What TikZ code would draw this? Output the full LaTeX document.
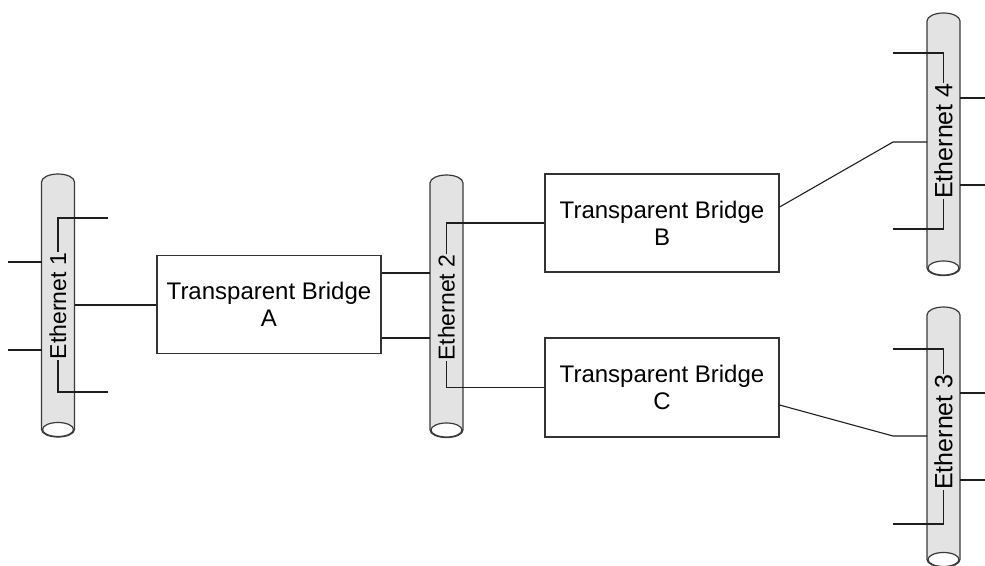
\documentclass[tikz,border=0pt]{standalone}
\usepackage{fontspec}
\setmainfont{Liberation Sans}
\definecolor{busfill}{HTML}{E3E3E3}
\definecolor{busline}{HTML}{3A3A3A}
\definecolor{wirecol}{HTML}{1E1E1E}
\definecolor{boxline}{HTML}{333333}
\tikzset{
  bus/.style={draw=busline, line width=1.2pt, fill=busfill},
  busend/.style={draw=busline, line width=1.2pt, fill=white},
  wire/.style={draw=wirecol, line width=1.1pt},
  bridge/.style={draw=boxline, line width=1.2pt, align=center, inner sep=0pt,
    minimum height=98pt, font=\fontsize{24}{27}\selectfont},
  buslabel/.style={rotate=90, inner sep=0.5pt},
}
\begin{document}
\begin{tikzpicture}[x=1pt,y=-1pt]
\useasboundingbox (0,0) rectangle (985,565);

% ---- Ethernet segments (vertical cable drums) ----
% Ethernet 1
\path[bus] (41.5,429.5) -- (41.5,182) arc[start angle=180,end angle=360,x radius=16.5,y radius=8]
  -- (74.5,429.5) arc[start angle=0,end angle=180,x radius=16.5,y radius=7.5] -- cycle;
\path[busend] (58,429.5) ellipse[x radius=15.5,y radius=7];
% Ethernet 2
\path[bus] (430,430) -- (430,183) arc[start angle=180,end angle=360,x radius=16.5,y radius=8]
  -- (463,430) arc[start angle=0,end angle=180,x radius=16.5,y radius=7.5] -- cycle;
\path[busend] (446.5,430) ellipse[x radius=15.5,y radius=7];
% Ethernet 4
\path[bus] (927,268) -- (927,21) arc[start angle=180,end angle=360,x radius=16.5,y radius=8]
  -- (960,268) arc[start angle=0,end angle=180,x radius=16.5,y radius=7.5] -- cycle;
\path[busend] (943.5,268) ellipse[x radius=15.5,y radius=7];
% Ethernet 3
\path[bus] (927,559.5) -- (927,315) arc[start angle=180,end angle=360,x radius=16.5,y radius=8]
  -- (960,559.5) arc[start angle=0,end angle=180,x radius=16.5,y radius=7.5] -- cycle;
\path[busend] (943.5,559.5) ellipse[x radius=15.5,y radius=7];

% ---- segment labels ----
\node[buslabel, font=\fontsize{23}{26}\selectfont] (t1) at (58,306) {Ethernet 1};
\node[buslabel, font=\fontsize{23}{26}\selectfont] (t2) at (446.5,307.5) {Ethernet 2};
\node[buslabel, font=\fontsize{25}{28}\selectfont] (t4) at (943.5,141) {Ethernet 4};
\node[buslabel, font=\fontsize{25}{28}\selectfont] (t3) at (943.5,432) {Ethernet 3};

% ---- bridges ----
\node[bridge, minimum width=224pt] (bA) at (269,304.5) {Transparent Bridge\\A};
\node[bridge, minimum width=234pt] (bB) at (662,223) {Transparent Bridge\\B};
\node[bridge, minimum width=234pt, minimum height=99pt] (bC) at (662,387.5) {Transparent Bridge\\C};

% ---- taps on the segments ----
\coordinate (e1L1) at (41.5,262);  \coordinate (w1a) at (8,262);
\coordinate (e1L2) at (41.5,350);  \coordinate (w1b) at (8,350);
\coordinate (e1R)  at (74.5,305);
\coordinate (s1a) at (108,218);    \coordinate (s1b) at (108,392);

\coordinate (e2L1) at (430,273);   \coordinate (e2L2) at (430,338);

\coordinate (s4a) at (893,53);     \coordinate (s4b) at (893,229);
\coordinate (e4R1) at (960,98);    \coordinate (o4a) at (985,98);
\coordinate (e4R2) at (960,185);   \coordinate (o4b) at (985,185);
\coordinate (k4) at (893,142);     \coordinate (e4L) at (927,142);

\coordinate (s3a) at (893,349);    \coordinate (s3b) at (893,524);
\coordinate (e3R1) at (960,393);   \coordinate (o3a) at (985,393);
\coordinate (e3R2) at (960,480);   \coordinate (o3b) at (985,480);
\coordinate (k3) at (893,436);     \coordinate (e3L) at (927,436);

% Ethernet 1 stations
\draw[wire] (w1a) -- (e1L1);
\draw[wire] (w1b) -- (e1L2);
\draw[wire] (s1a) -| (t1.east);
\draw[wire] (s1b) -| (t1.west);
\draw[wire] (e1R) -- (e1R -| bA.west);

% Bridge A to Ethernet 2
\draw[wire] (e2L1 -| bA.east) -- (e2L1);
\draw[wire] (e2L2 -| bA.east) -- (e2L2);

% Ethernet 2 to bridges B and C
\draw[wire] (bB.west) -| (t2.east);
\draw[wire] (bC.west) -| (t2.west);

% Ethernet 4
\draw[wire] (s4a) -| (t4.east);
\draw[wire] (s4b) -| (t4.west);
\draw[wire] (e4R1) -- (o4a);
\draw[wire] (e4R2) -- (o4b);
\draw[wire] ([yshift=16pt]bB.east) -- (k4) -- (e4L);

% Ethernet 3
\draw[wire] (s3a) -| (t3.east);
\draw[wire] (s3b) -| (t3.west);
\draw[wire] (e3R1) -- (o3a);
\draw[wire] (e3R2) -- (o3b);
\draw[wire] ([yshift=-17.5pt]bC.east) -- (k3) -- (e3L);
\end{tikzpicture}
\end{document}
